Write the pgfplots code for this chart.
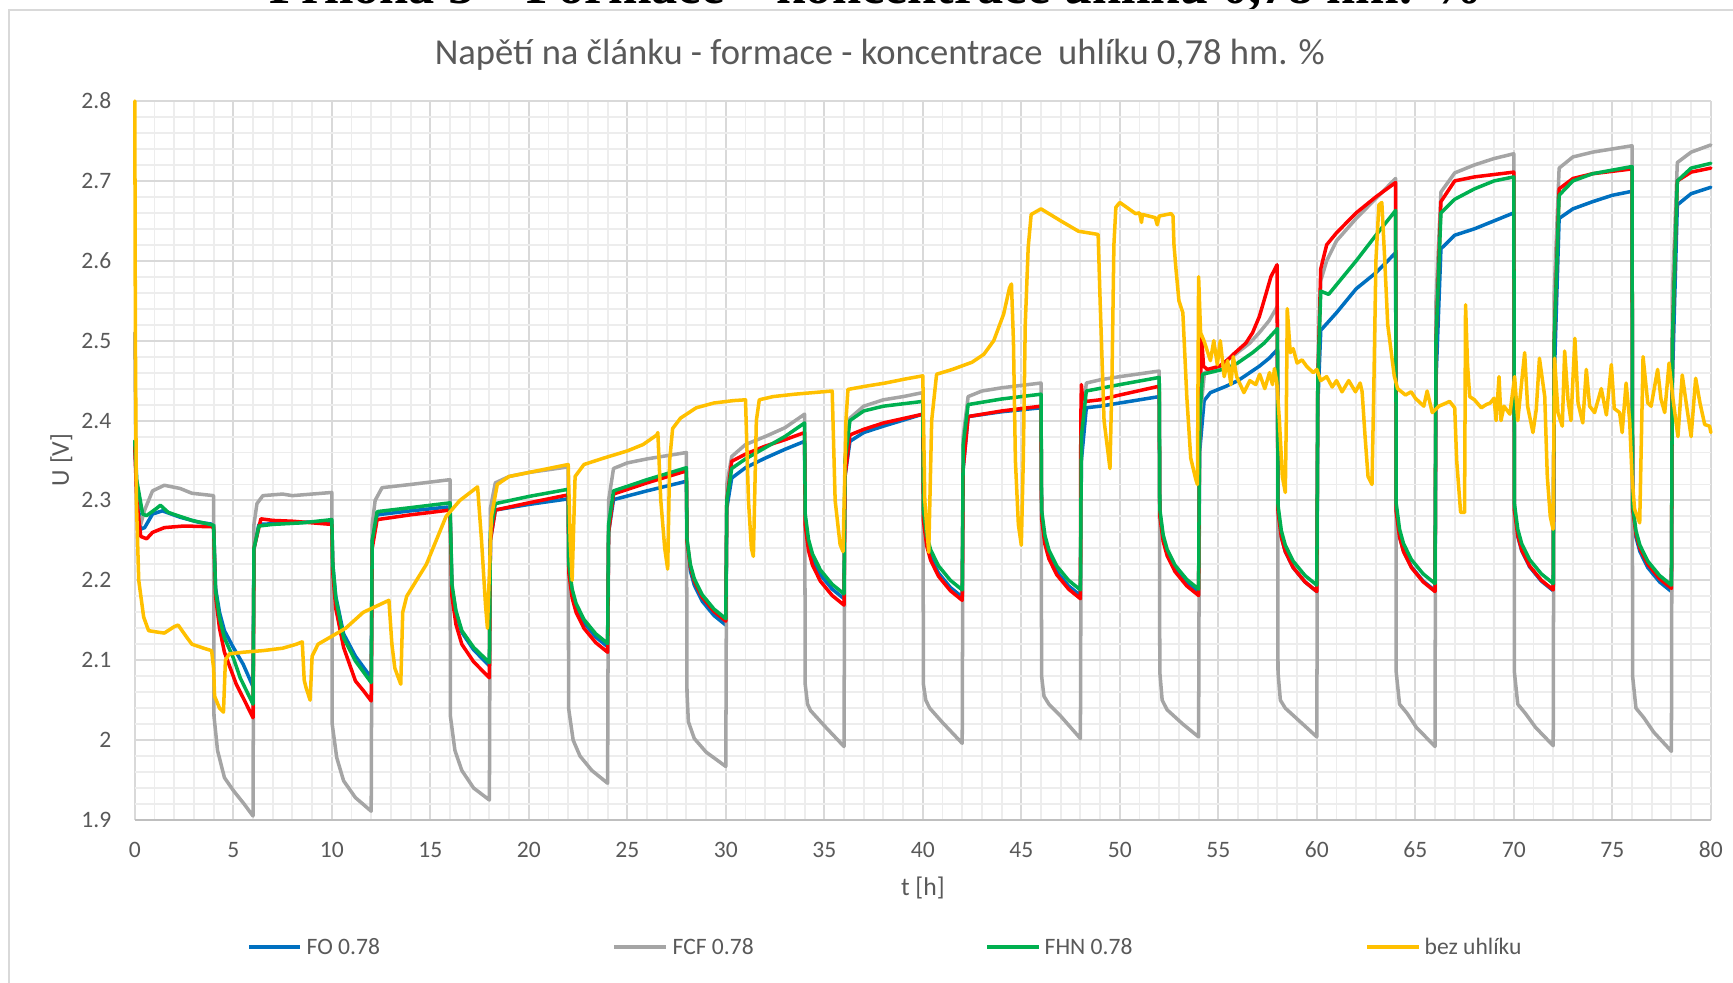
\documentclass[border=0pt]{standalone}
\usepackage{fontspec}
\setmainfont{Carlito}
\newfontfamily\timesfont{Liberation Serif}
\usepackage{pgfplots}
\pgfplotsset{compat=1.18}
\definecolor{cBlue}{HTML}{0070C0}
\definecolor{cGray}{HTML}{A5A5A5}
\definecolor{cGreen}{HTML}{00B050}
\definecolor{cRed}{HTML}{FF0000}
\definecolor{cYel}{HTML}{FFC000}
\definecolor{txt}{HTML}{595959}
\definecolor{gmaj}{HTML}{D9D9D9}
\definecolor{gmin}{HTML}{EDEDED}
\definecolor{gaxis}{HTML}{BFBFBF}
\begin{document}
\begin{tikzpicture}
\path[use as bounding box] (-1.348,-1.62) rectangle (15.982,8.20);
\clip (-1.348,-1.62) rectangle (15.982,8.20);
\node[anchor=base, inner sep=0pt, font=\timesfont\bfseries\fontsize{14.9}{16}\selectfont] at (7.41,8.16) {Příloha 5 – Formace – koncentrace uhlíku 0,78 hm. \%};
\draw[gmaj, line width=0.6pt] (-1.258,-2) -- (-1.258,8.10) -- (16.5,8.10);
\node[anchor=base, inner sep=0pt, text=txt, font=\fontsize{10.4}{12}\selectfont] at (7.45,7.55) {Napětí na článku - formace - koncentrace\hspace{0.2em} uhlíku 0,78 hm. \%};
\begin{axis}[
  at={(0,0)}, anchor=south west, scale only axis,
  width=15.76cm, height=7.19cm,
  xmin=0, xmax=80, ymin=1.9, ymax=2.8,
  xtick={0,5,10,15,20,25,30,35,40,45,50,55,60,65,70,75,80},
  xticklabels={0,5,10,15,20,25,30,35,40,45,50,55,60,65,70,75,80},
  ytick={1.9,2.0,2.1,2.2,2.3,2.4,2.5,2.6,2.7,2.8},
  yticklabels={1.9,2,2.1,2.2,2.3,2.4,2.5,2.6,2.7,2.8},
  minor xtick={0,1,...,80},
  minor ytick={1.92,1.94,1.96,1.98,2.02,2.04,2.06,2.08,2.12,2.14,2.16,2.18,2.22,2.24,2.26,2.28,2.32,2.34,2.36,2.38,2.42,2.44,2.46,2.48,2.52,2.54,2.56,2.58,2.62,2.64,2.66,2.68,2.72,2.74,2.76,2.78},
  grid=both,
  major grid style={gmaj, line width=0.55pt},
  minor grid style={gmin, line width=0.55pt},
  major tick length=0pt, minor tick length=0pt,
  axis line style={draw=none},
  tick label style={text=txt, font=\fontsize{6.7}{8}\selectfont},
  yticklabel style={anchor=east, inner sep=0pt, xshift=-0.228cm},
  xticklabel style={anchor=center, inner sep=0pt, yshift=-0.30cm},
  clip=false,
  every axis plot/.append style={line width=1.0pt, line join=round, line cap=round, mark=none},
]
\draw[gaxis, line width=0.6pt] (rel axis cs:0,0) -- (rel axis cs:1,0);
% FO 0.78 (blue)
\addplot[cBlue] coordinates {
(0,2.37) (0.1,2.31) (0.3,2.264) (0.5,2.266) (0.9,2.283) (1.4,2.287) (2.3,2.279) (3.2,2.273) (4.0,2.27)
(4.1,2.19) (4.3,2.16) (4.55,2.137) (5.0,2.116) (5.5,2.095) (6.0,2.067)
(6.05,2.24) (6.3,2.27) (8,2.272) (10,2.274)
(10.05,2.22) (10.2,2.18) (10.6,2.133) (11.2,2.105) (12,2.078)
(12.05,2.25) (12.3,2.282) (14,2.287) (16,2.292)
(16.1,2.19) (16.3,2.16) (16.6,2.135) (17.2,2.113) (18,2.093)
(18.05,2.25) (18.3,2.288) (20,2.295) (22,2.302)
(22.03,2.217) (22.2,2.185) (22.4,2.167) (22.8,2.147) (23.4,2.129) (24,2.117)
(24.05,2.26) (24.3,2.301) (26,2.312) (28,2.324)
(28.03,2.244) (28.2,2.212) (28.4,2.194) (28.8,2.174) (29.4,2.156) (30,2.144)
(30.05,2.29) (30.3,2.328) (31,2.341) (32,2.353) (33,2.364) (34,2.374)
(34.03,2.277) (34.2,2.245) (34.4,2.227) (34.8,2.207) (35.4,2.189) (36,2.177)
(36.05,2.33) (36.3,2.374) (37,2.385) (38,2.393) (40,2.408)
(40.03,2.279) (40.2,2.247) (40.4,2.229) (40.8,2.209) (41.4,2.191) (42,2.179)
(42.05,2.34) (42.3,2.405) (44,2.411) (46,2.416)
(46.03,2.281) (46.2,2.249) (46.4,2.231) (46.8,2.211) (47.4,2.193) (48,2.181)
(48.05,2.35) (48.3,2.416) (49,2.418) (50,2.422) (52,2.43)
(52.03,2.285) (52.2,2.253) (52.4,2.235) (52.8,2.215) (53.4,2.197) (54,2.185)
(54.05,2.36) (54.28,2.425) (54.6,2.435) (55.4,2.443) (56,2.45) (56.6,2.46) (57.08,2.468) (57.58,2.478) (58,2.489)
(58.03,2.286) (58.2,2.254) (58.4,2.236) (58.8,2.216) (59.4,2.198) (60,2.186)
(60.05,2.42) (60.2,2.513) (61,2.535) (62,2.565) (63,2.585) (64,2.61)
(64.03,2.287) (64.2,2.255) (64.4,2.237) (64.8,2.217) (65.4,2.199) (66,2.187)
(66.05,2.45) (66.3,2.615) (67,2.632) (68,2.64) (69,2.65) (70,2.66)
(70.03,2.287) (70.2,2.255) (70.4,2.237) (70.8,2.217) (71.4,2.199) (72,2.187)
(72.05,2.45) (72.3,2.653) (73,2.665) (74,2.674) (75,2.682) (76,2.687)
(76.03,2.286) (76.2,2.254) (76.4,2.236) (76.8,2.216) (77.4,2.198) (78,2.186)
(78.05,2.45) (78.3,2.67) (79,2.684) (80,2.692)
};
% FCF 0.78 (gray)
\addplot[cGray] coordinates {
(0,2.51) (0.05,2.35) (0.15,2.285) (0.3,2.27) (0.5,2.288) (0.9,2.312) (1.5,2.319) (2.3,2.315) (2.9,2.309) (4.0,2.306)
(4.02,2.03) (4.2,1.987) (4.55,1.953) (5.0,1.937) (5.55,1.92) (6.0,1.905)
(6.05,2.27) (6.2,2.296) (6.5,2.306) (7.5,2.308) (8.0,2.306) (9.0,2.308) (10.0,2.31)
(10.02,2.02) (10.25,1.978) (10.6,1.949) (11.2,1.928) (12.0,1.911)
(12.05,2.27) (12.2,2.30) (12.55,2.316) (14.0,2.32) (16.0,2.326)
(16.02,2.03) (16.25,1.987) (16.6,1.962) (17.2,1.94) (18.0,1.925)
(18.05,2.29) (18.3,2.322) (19.0,2.33) (20.0,2.335) (22.0,2.342)
(22.02,2.04) (22.25,2.0) (22.6,1.98) (23.2,1.962) (24.0,1.946)
(24.05,2.30) (24.3,2.34) (25.0,2.347) (26.0,2.352) (28.0,2.36)
(28.03,2.06) (28.1,2.023) (28.4,2.002) (29.0,1.985) (30.0,1.967)
(30.05,2.32) (30.3,2.355) (31.0,2.37) (32.0,2.38) (33.0,2.391) (34.0,2.408)
(34.03,2.07) (34.15,2.045) (34.3,2.037) (35.0,2.018) (36.0,1.992)
(36.05,2.35) (36.3,2.403) (37.0,2.418) (38.0,2.426) (39.0,2.43) (40.0,2.435)
(40.03,2.07) (40.15,2.05) (40.35,2.04) (41.0,2.022) (42.0,1.996)
(42.05,2.38) (42.3,2.43) (43.0,2.437) (44.0,2.441) (46.0,2.447)
(46.03,2.08) (46.15,2.055) (46.4,2.045) (47.0,2.03) (48.0,2.002)
(48.05,2.39) (48.3,2.447) (49.0,2.451) (50.0,2.455) (52.0,2.462)
(52.03,2.085) (52.15,2.05) (52.4,2.038) (53.2,2.02) (54.0,2.004)
(54.05,2.40) (54.3,2.46) (55.1,2.468) (55.7,2.48) (56.6,2.497) (57.08,2.51) (57.58,2.525) (58.0,2.543)
(58.03,2.085) (58.15,2.05) (58.4,2.04) (59.2,2.022) (60.0,2.004)
(60.05,2.45) (60.2,2.575) (60.5,2.60) (61.0,2.625) (62.0,2.653) (63.0,2.678) (64.0,2.703)
(64.03,2.085) (64.2,2.045) (64.6,2.033) (65.05,2.016) (66.0,1.992)
(66.05,2.55) (66.3,2.686) (67.0,2.71) (68.0,2.72) (69.0,2.728) (70.0,2.734)
(70.03,2.085) (70.2,2.045) (70.6,2.033) (71.1,2.016) (72.0,1.993)
(72.05,2.56) (72.3,2.716) (73.0,2.73) (74.0,2.736) (75.0,2.74) (76.0,2.744)
(76.03,2.08) (76.2,2.04) (76.6,2.028) (77.1,2.01) (78.0,1.986)
(78.05,2.56) (78.3,2.723) (79.0,2.736) (80.0,2.745)
};
% red series (no legend entry)
\addplot[cRed] coordinates {
(0,2.367) (0.1,2.30) (0.3,2.255) (0.6,2.252) (0.9,2.26) (1.5,2.266) (2.5,2.268) (4.0,2.267)
(4.1,2.18) (4.3,2.14) (4.55,2.11) (5.15,2.07) (5.6,2.048) (6.0,2.028)
(6.05,2.24) (6.4,2.277) (7.0,2.275) (8.0,2.274) (9.0,2.272) (10.0,2.27)
(10.05,2.21) (10.2,2.165) (10.6,2.116) (11.2,2.074) (11.6,2.062) (12.0,2.049)
(12.05,2.24) (12.3,2.276) (14.0,2.282) (16.0,2.288)
(16.1,2.18) (16.3,2.145) (16.6,2.12) (17.2,2.098) (18.0,2.078)
(18.05,2.25) (18.3,2.288) (20.0,2.297) (22.0,2.307)
(22.03,2.21) (22.2,2.178) (22.4,2.16) (22.8,2.14) (23.4,2.122) (24.0,2.11)
(24.05,2.26) (24.3,2.308) (26.0,2.322) (28.0,2.337)
(28.03,2.249) (28.2,2.217) (28.4,2.199) (28.8,2.179) (29.4,2.161) (30.0,2.149)
(30.05,2.30) (30.3,2.349) (31.0,2.358) (32.0,2.368) (33.0,2.376) (34.0,2.385)
(34.03,2.269) (34.2,2.237) (34.4,2.219) (34.8,2.199) (35.4,2.181) (36.0,2.169)
(36.05,2.33) (36.3,2.382) (37.0,2.389) (38.0,2.397) (40.0,2.408)
(40.03,2.275) (40.2,2.243) (40.4,2.225) (40.8,2.205) (41.4,2.187) (42.0,2.175)
(42.05,2.34) (42.3,2.405) (44.0,2.412) (46.0,2.418)
(46.03,2.277) (46.2,2.245) (46.4,2.227) (46.8,2.207) (47.4,2.189) (48.0,2.177)
(48.02,2.40) (48.05,2.445) (48.1,2.43) (48.3,2.424) (49.0,2.426) (50.0,2.432) (52.0,2.443)
(52.03,2.281) (52.2,2.249) (52.4,2.231) (52.8,2.211) (53.4,2.193) (54.0,2.181)
(54.05,2.40) (54.15,2.505) (54.25,2.468) (54.45,2.464) (55.05,2.468) (55.47,2.476) (55.81,2.484) (56.4,2.497) (56.74,2.51) (57.08,2.53) (57.33,2.551) (57.67,2.58) (57.98,2.595)
(58.03,2.286) (58.2,2.254) (58.4,2.236) (58.8,2.216) (59.4,2.198) (60.0,2.186)
(60.05,2.45) (60.2,2.59) (60.5,2.62) (61.0,2.635) (62.0,2.66) (63.0,2.68) (64.0,2.698)
(64.03,2.286) (64.2,2.254) (64.4,2.236) (64.8,2.216) (65.4,2.198) (66.0,2.186)
(66.05,2.50) (66.3,2.674) (67.0,2.70) (68.0,2.705) (70.0,2.711)
(70.03,2.288) (70.2,2.256) (70.4,2.238) (70.8,2.218) (71.4,2.2) (72.0,2.188)
(72.05,2.50) (72.3,2.69) (73.0,2.703) (74.0,2.709) (76.0,2.715)
(76.03,2.29) (76.2,2.258) (76.4,2.24) (76.8,2.22) (77.4,2.202) (78.0,2.19)
(78.05,2.50) (78.3,2.70) (79.0,2.711) (80.0,2.716)
};
% FHN 0.78 (green)
\addplot[cGreen] coordinates {
(0,2.375) (0.1,2.325) (0.4,2.283) (0.6,2.281) (1.1,2.29) (1.3,2.294) (1.7,2.285) (2.9,2.275) (4.0,2.269)
(4.1,2.187) (4.3,2.153) (4.55,2.128) (5.0,2.103) (5.35,2.078) (6.0,2.045)
(6.05,2.24) (6.3,2.268) (7.0,2.27) (8.5,2.272) (10.0,2.276)
(10.05,2.22) (10.2,2.178) (10.6,2.128) (11.2,2.099) (12.0,2.072)
(12.05,2.25) (12.3,2.286) (14.0,2.291) (16.0,2.297)
(16.1,2.195) (16.3,2.162) (16.6,2.137) (17.2,2.116) (18.0,2.097)
(18.05,2.26) (18.3,2.296) (20.0,2.305) (22.0,2.314)
(22.03,2.221) (22.2,2.189) (22.4,2.171) (22.8,2.151) (23.4,2.133) (24.0,2.121)
(24.05,2.27) (24.3,2.312) (26.0,2.326) (28.0,2.341)
(28.03,2.252) (28.2,2.22) (28.4,2.202) (28.8,2.182) (29.4,2.164) (30.0,2.152)
(30.05,2.30) (30.3,2.34) (31.0,2.352) (32.0,2.366) (33.0,2.38) (34.0,2.397)
(34.03,2.283) (34.2,2.251) (34.4,2.233) (34.8,2.213) (35.4,2.195) (36.0,2.183)
(36.05,2.35) (36.3,2.40) (37.0,2.412) (38.0,2.418) (40.0,2.424)
(40.03,2.288) (40.2,2.256) (40.4,2.238) (40.8,2.218) (41.4,2.2) (42.0,2.188)
(42.05,2.37) (42.3,2.42) (44.0,2.427) (46.0,2.433)
(46.03,2.288) (46.2,2.256) (46.4,2.238) (46.8,2.218) (47.4,2.2) (48.0,2.188)
(48.05,2.38) (48.3,2.437) (50.0,2.445) (52.0,2.454)
(52.03,2.289) (52.2,2.257) (52.4,2.239) (52.8,2.219) (53.4,2.201) (54.0,2.189)
(54.05,2.40) (54.2,2.458) (55.4,2.465) (55.98,2.472) (56.74,2.485) (57.33,2.497) (58.0,2.515)
(58.03,2.294) (58.2,2.262) (58.4,2.244) (58.8,2.224) (59.4,2.206) (60.0,2.194)
(60.05,2.45) (60.2,2.562) (60.6,2.558) (61.0,2.57) (62.0,2.60) (63.0,2.632) (64.0,2.663)
(64.03,2.296) (64.2,2.264) (64.4,2.246) (64.8,2.226) (65.4,2.208) (66.0,2.196)
(66.05,2.50) (66.3,2.66) (67.0,2.677) (68.0,2.69) (69.0,2.70) (70.0,2.705)
(70.03,2.296) (70.2,2.264) (70.4,2.246) (70.8,2.226) (71.4,2.208) (72.0,2.196)
(72.05,2.50) (72.3,2.682) (73.0,2.70) (74.0,2.709) (76.0,2.718)
(76.03,2.294) (76.2,2.262) (76.4,2.244) (76.8,2.224) (77.4,2.206) (78.0,2.194)
(78.05,2.50) (78.3,2.70) (79.0,2.716) (80.0,2.722)
};
% bez uhliku (yellow)
\addplot[cYel] coordinates {
(0,2.8) (0.03,2.5) (0.08,2.3) (0.2,2.2) (0.45,2.154) (0.7,2.137) (1.2,2.135) (1.5,2.134) (2.0,2.142) (2.2,2.144) (2.6,2.13) (2.9,2.12) (3.5,2.115) (3.9,2.112)
(4.0,2.09) (4.05,2.055) (4.3,2.04) (4.5,2.035) (4.6,2.1) (4.8,2.108) (5.5,2.11) (6.5,2.112) (7.5,2.115) (8.2,2.12) (8.5,2.123)
(8.6,2.075) (8.7,2.065) (8.9,2.05) (9.0,2.105) (9.3,2.12) (10.0,2.13) (10.7,2.14) (11.6,2.16) (12.9,2.175)
(13.05,2.12) (13.2,2.09) (13.5,2.07) (13.6,2.16) (13.8,2.18) (14.3,2.2) (14.8,2.22) (15.3,2.25) (15.8,2.28) (16.5,2.30) (17.4,2.317)
(17.6,2.25) (17.8,2.17) (17.9,2.14) (18.1,2.28) (18.4,2.32) (19.0,2.33) (20.0,2.335) (21.0,2.34) (22.0,2.345)
(22.1,2.25) (22.2,2.2) (22.35,2.33) (22.8,2.345) (23.8,2.353) (25.0,2.362) (25.8,2.37) (26.5,2.382) (26.55,2.385)
(26.7,2.3) (26.9,2.24) (27.05,2.214) (27.15,2.35) (27.3,2.39) (27.7,2.403) (28.5,2.416) (29.4,2.422) (30.4,2.425) (31.0,2.426)
(31.15,2.30) (31.3,2.24) (31.4,2.23) (31.55,2.40) (31.7,2.426) (32.4,2.43) (33.5,2.433) (35.4,2.437)
(35.55,2.30) (35.8,2.245) (35.95,2.236) (36.1,2.40) (36.2,2.439) (37.1,2.443) (38.1,2.447) (39.1,2.452) (40.0,2.456)
(40.1,2.30) (40.3,2.235) (40.45,2.40) (40.7,2.458) (41.5,2.464) (42.5,2.473) (43.1,2.483) (43.6,2.50) (44.1,2.533) (44.4,2.566) (44.5,2.571)
(44.6,2.50) (44.7,2.35) (44.85,2.27) (45.0,2.244) (45.1,2.35) (45.2,2.52) (45.35,2.617) (45.5,2.658) (46.0,2.665) (47.0,2.65) (47.9,2.637) (48.9,2.633)
(49.0,2.55) (49.2,2.40) (49.5,2.34) (49.6,2.45) (49.7,2.62) (49.8,2.667) (50.0,2.673) (50.8,2.659) (51.0,2.66) (51.1,2.648) (51.15,2.658) (51.8,2.654) (51.9,2.645) (52.0,2.656) (52.6,2.659) (52.7,2.656)
(52.75,2.62) (52.85,2.59) (53.0,2.55) (53.2,2.535) (53.4,2.43) (53.6,2.353) (53.85,2.327) (53.94,2.32)
(54.0,2.58) (54.1,2.51) (54.27,2.50) (54.6,2.475) (54.77,2.50) (54.95,2.47) (55.1,2.50) (55.3,2.455) (55.47,2.475) (55.64,2.445) (55.76,2.48) (55.93,2.455) (56.3,2.435) (56.6,2.45) (56.9,2.445) (57.1,2.458) (57.36,2.44) (57.6,2.46) (57.75,2.445) (57.85,2.465) (57.97,2.448)
(58.1,2.40) (58.25,2.33) (58.4,2.31) (58.45,2.40) (58.5,2.54) (58.65,2.485) (58.8,2.49) (59.0,2.472) (59.25,2.476) (59.48,2.468) (59.82,2.46) (60.0,2.464) (60.2,2.45) (60.5,2.455) (60.78,2.442) (61.0,2.45) (61.28,2.436) (61.62,2.45) (61.96,2.436) (62.2,2.447) (62.3,2.436)
(62.45,2.38) (62.6,2.33) (62.8,2.32) (62.9,2.45) (63.0,2.6) (63.15,2.67) (63.3,2.673) (63.45,2.60) (63.6,2.52) (63.93,2.456) (64.1,2.44) (64.5,2.432) (64.79,2.436) (65.0,2.428) (65.43,2.418) (65.6,2.437) (65.86,2.41) (66.2,2.418) (66.57,2.422) (66.74,2.424) (67.0,2.416)
(67.1,2.35) (67.3,2.285) (67.5,2.285) (67.55,2.545) (67.65,2.47) (67.76,2.43) (68.0,2.426) (68.35,2.416) (68.6,2.42) (68.8,2.422) (69.0,2.428) (69.1,2.40) (69.25,2.455) (69.35,2.40) (69.5,2.418) (69.8,2.408) (70.04,2.455) (70.2,2.40) (70.55,2.485) (70.7,2.418) (70.97,2.385) (71.14,2.414) (71.3,2.478) (71.57,2.43)
(71.7,2.33) (71.85,2.28) (71.99,2.264) (72.07,2.478) (72.24,2.41) (72.46,2.393) (72.58,2.487) (72.75,2.426) (72.9,2.40) (73.1,2.503) (73.26,2.422) (73.5,2.397) (73.68,2.464) (73.85,2.418) (74.1,2.41) (74.44,2.44) (74.7,2.407) (74.95,2.47) (75.1,2.415) (75.37,2.41) (75.5,2.385) (75.7,2.447) (75.88,2.40)
(76.0,2.33) (76.13,2.289) (76.39,2.272) (76.56,2.48) (76.8,2.422) (76.97,2.418) (77.3,2.464) (77.47,2.427) (77.66,2.41) (77.88,2.472) (78.08,2.427) (78.33,2.38) (78.55,2.457) (78.75,2.422) (79.0,2.38) (79.23,2.453) (79.45,2.422) (79.69,2.395) (79.94,2.393) (80.0,2.385)
};
\end{axis}
% axis titles
\node[anchor=base, rotate=90, inner sep=0pt, text=txt, font=\fontsize{7.3}{9}\selectfont] at (-0.66,3.60) {U [V]};
\node[anchor=base, inner sep=0pt, text=txt, font=\fontsize{7.3}{9}\selectfont] at (7.88,-0.75) {t [h]};
% legend
\begin{scope}[every node/.style={anchor=base west, inner sep=0pt, text=txt, font=\fontsize{6.7}{8}\selectfont}]
\draw[cBlue, line width=1.0pt] (1.142,-1.27) -- (1.652,-1.27);
\node at (1.712,-1.345) {FO 0.78};
\draw[cGray, line width=1.0pt] (4.792,-1.27) -- (5.312,-1.27);
\node at (5.372,-1.345) {FCF 0.78};
\draw[cGreen, line width=1.0pt] (8.522,-1.27) -- (9.042,-1.27);
\node at (9.092,-1.345) {FHN 0.78};
\draw[cYel, line width=1.0pt] (12.322,-1.27) -- (12.842,-1.27);
\node at (12.892,-1.345) {bez uhlíku};
\end{scope}
\end{tikzpicture}
\end{document}
